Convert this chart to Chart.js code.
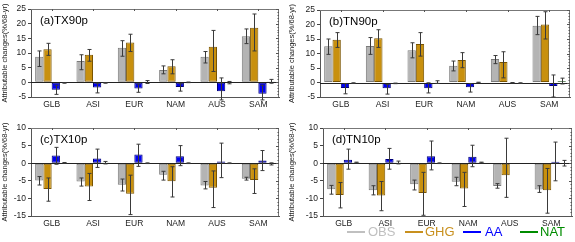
<!DOCTYPE html>
<html>
<head>
<meta charset="utf-8">
<script src="https://cdn.jsdelivr.net/npm/chart.js@4.4.0/dist/chart.umd.min.js"></script>
<style>
  body { margin: 0; background: #fff; width: 575px; height: 242px; position: relative; overflow: hidden; font-family: 'Liberation Sans', Arial, sans-serif; }
  canvas { position: absolute; }
  .leg-line { position: absolute; height: 2px; width: 18px; }
  .leg-text { position: absolute; font-size: 13px; line-height: 14px; }
</style>
</head>
<body>
<canvas id="pA" width="285" height="114" style="left:0;top:0"></canvas>
<canvas id="pB" width="288" height="114" style="left:287px;top:0"></canvas>
<canvas id="pC" width="285" height="120" style="left:0;top:115px"></canvas>
<canvas id="pD" width="288" height="120" style="left:287px;top:115px"></canvas>

<div class="leg-line" style="left:347px;top:231px;background:#c0c0c0"></div>
<div class="leg-text" style="left:368px;top:225px;color:#c0c0c0">OBS</div>
<div class="leg-line" style="left:405px;top:231px;background:#c8901e"></div>
<div class="leg-text" style="left:425px;top:225px;color:#c8901e">GHG</div>
<div class="leg-line" style="left:463px;top:231px;background:#0000ff"></div>
<div class="leg-text" style="left:485px;top:225px;color:#0000ff">AA</div>
<div class="leg-line" style="left:520px;top:231px;background:#008c00"></div>
<div class="leg-text" style="left:540px;top:225px;color:#008c00">NAT</div>

<script>
// categorias e séries
const regions = ['GLB', 'ASI', 'EUR', 'NAM', 'AUS', 'SAM'];
const seriesNames = ['OBS', 'GHG', 'AA', 'NAT'];

// (a) TX90p
const tx90pObs = [8.7, 7.3, 11.8, 4.2, 8.7, 15.7];
const tx90pObsErr = [[5.4, 10.7], [4.3, 9.4], [8.9, 14.2], [2.9, 5.6], [6.6, 10.5], [13.2, 18.2]];
const tx90pGhg = [11.3, 9.4, 13.6, 5.5, 12.1, 18.6];
const tx90pGhgErr = [[9.2, 13.3], [7.2, 11.2], [10.5, 16.4], [2.9, 7.7], [3.7, 17.7], [10.7, 23.3]];
const tx90pAa = [-2.5, -1.8, -2.1, -1.6, -3.0, -3.9];
const tx90pAaErr = [[-4.1, -1.0], [-3.6, -0.3], [-3.4, -0.6], [-3.0, -0.5], [-6.0, 1.5], [-6.0, -1.0]];
const tx90pNat = [-0.2, -0.2, 0.2, 0, -0.2, 0.3];
const tx90pNatErr = [[-0.3, -0.1], [-0.3, -0.1], [-0.4, 0.6], [-0.1, 0.1], [-0.5, 0.3], [-0.3, 1.0]];

// (b) TN90p
const tn90pObs = [12.5, 12.6, 11.1, 5.8, 8.1, 19.6];
const tn90pObsErr = [[9.7, 15.0], [9.7, 15.5], [8.5, 13.7], [4.0, 7.4], [6.5, 9.3], [16.5, 22.8]];
const tn90pGhg = [14.7, 15.3, 13.3, 7.8, 7.1, 20.0];
const tn90pGhgErr = [[12.1, 17.2], [12.1, 18.2], [9.1, 17.2], [5.1, 10.3], [1.6, 10.6], [15.0, 24.4]];
const tn90pAa = [-1.9, -2.0, -2.0, -1.6, -0.1, -1.2];
const tn90pAaErr = [[-3.9, -0.4], [-4.0, -0.7], [-3.6, -0.1], [-3.3, -0.4], [-0.2, 0], [-5.0, 2.6]];
const tn90pNat = [-0.2, -0.3, 0.2, 0, -0.2, 0.4];
const tn90pNatErr = [[-0.3, -0.1], [-0.4, -0.2], [-0.3, 0.6], [-0.1, 0.1], [-0.3, -0.1], [-0.5, 1.5]];

// (c) TX10p
const tx10pObs = [-4.9, -5.2, -6.1, -3.3, -6.3, -4.4];
const tx10pObsErr = [[-6.2, -3.8], [-6.5, -4.2], [-7.9, -4.5], [-4.8, -2.3], [-7.3, -5.2], [-4.8, -4.0]];
const tx10pGhg = [-7.3, -6.6, -8.7, -5.1, -7.0, -4.8];
const tx10pGhgErr = [[-10.8, -4.2], [-10.6, -2.9], [-14.6, -3.4], [-9.6, -1.0], [-12.6, -2.2], [-8.6, -1.6]];
const tx10pAa = [2.2, 1.3, 2.5, 2.0, 0.5, 0.8];
const tx10pAaErr = [[-0.3, 4.5], [-1.2, 4.0], [-0.9, 5.4], [-0.7, 5.0], [-4.1, 5.7], [-2.1, 3.6]];
const tx10pNat = [0.1, 0.2, 0, 0, 0, -0.2];
const tx10pNatErr = [[0, 0.2], [-0.2, 0.5], [-0.1, 0.1], [-0.1, 0.1], [-0.1, 0.1], [-0.5, 0.1]];

// (d) TN10p
const tn10pObs = [-7.4, -7.7, -6.0, -5.3, -6.5, -7.5];
const tn10pObsErr = [[-8.8, -6.3], [-9.0, -6.4], [-7.6, -4.8], [-6.4, -4.0], [-7.1, -5.8], [-8.3, -6.4]];
const tn10pGhg = [-9.0, -9.2, -8.5, -7.2, -3.4, -7.7];
const tn10pGhgErr = [[-12.7, -5.5], [-13.5, -5.2], [-14.8, -2.6], [-12.3, -2.6], [-9.7, 7.1], [-14.2, -1.5]];
const tn10pAa = [1.0, 1.2, 2.0, 1.8, 0, 0.4];
const tn10pAaErr = [[-1.7, 4.0], [-1.7, 4.2], [-1.9, 6.3], [-1.0, 5.1], null, [-5.0, 6.0]];
const tn10pNat = [0.2, 0.2, 0, 0.2, 0, 0];
const tn10pNatErr = [[0.1, 0.3], [-0.2, 0.6], [-0.1, 0.1], [0.1, 0.3], null, [-0.8, 0.8]];

const fills = ['#b4b4b4', '#c8900e', '#0000f0', '#008000'];
const borders = ['#7a7a7a', '#7a5400', '#00007a', '#004000'];

// barras de erro, moldura, linha do zero e rótulo do painel
const moldura = {
  id: 'moldura',
  afterDatasetsDraw(chart) {
    const ctx = chart.ctx;
    const a = chart.chartArea;
    const y = chart.scales.y;
    ctx.save();
    // linha do zero
    const y0 = Math.round(y.getPixelForValue(0)) + 0.5;
    ctx.strokeStyle = '#222';
    ctx.lineWidth = 1;
    ctx.beginPath();
    ctx.moveTo(a.left, y0);
    ctx.lineTo(a.right, y0);
    ctx.stroke();

    chart.data.datasets.forEach((ds, i) => {
      const meta = chart.getDatasetMeta(i);
      meta.data.forEach((bar, j) => {
        const e = ds.errs[j];
        if (!e) return;
        const x = Math.round(bar.x) + 0.5;
        const y1 = y.getPixelForValue(e[0]);
        const y2 = y.getPixelForValue(e[1]);
        ctx.strokeStyle = '#3a3a3a';
        ctx.beginPath();
        ctx.moveTo(x, y1); ctx.lineTo(x, y2);
        ctx.moveTo(x - 2, y1); ctx.lineTo(x + 2, y1);
        ctx.moveTo(x - 2, y2); ctx.lineTo(x + 2, y2);
        ctx.stroke();
      });
    });

    // topo e lado direito
    ctx.strokeStyle = '#777';
    ctx.beginPath();
    ctx.moveTo(a.left, a.top + 0.5);
    ctx.lineTo(a.right - 0.5, a.top + 0.5);
    ctx.lineTo(a.right - 0.5, a.bottom);
    ctx.stroke();
    // marcas menores à direita
    ctx.strokeStyle = '#555';
    ctx.beginPath();
    for (let v = y.min; v <= y.max; v += 1) {
      const py = Math.round(y.getPixelForValue(v)) + 0.5;
      const len = v % 5 === 0 ? 3 : 1.5;
      ctx.moveTo(a.right - len, py);
      ctx.lineTo(a.right, py);
    }
    ctx.stroke();
    // marcas no topo
    const x = chart.scales.x;
    ctx.beginPath();
    regions.forEach((r, k) => {
      const px = Math.round(x.getPixelForValue(k)) + 0.5;
      ctx.moveTo(px, a.top);
      ctx.lineTo(px, a.top + 2);
    });
    ctx.stroke();

    ctx.fillStyle = '#000';
    ctx.font = '11.5px "Liberation Sans", Arial, sans-serif';
    ctx.textBaseline = 'middle';
    ctx.fillText(chart.options.plugins.moldura.label, a.left + 9, a.top + 12);
    ctx.restore();
  }
};

function criarPainel(id, label, yMin, yMax, padTop, padRight, yWidth, xHeight, valores, erros) {
  new Chart(document.getElementById(id), {
    type: 'bar',
    data: {
      labels: regions,
      datasets: seriesNames.map((nome, i) => ({
        label: nome,
        data: valores[i],
        errs: erros[i],
        backgroundColor: fills[i],
        borderColor: borders[i],
        borderWidth: 1,
        borderSkipped: false,
        categoryPercentage: 0.8,
        barPercentage: 1.0
      }))
    },
    options: {
      responsive: false,
      animation: false,
      devicePixelRatio: 1,
      layout: { padding: { top: padTop, right: padRight, left: 0, bottom: 0 }, autoPadding: false },
      plugins: {
        legend: { display: false },
        tooltip: { enabled: false },
        moldura: { label: label }
      },
      scales: {
        x: {
          grid: { display: false, drawTicks: false },
          border: { display: true, color: '#555' },
          ticks: { color: '#222', padding: 3, font: { size: 8.5, family: '"Liberation Sans", Arial, sans-serif' } },
          afterFit: s => { s.height = xHeight; }
        },
        y: {
          min: yMin,
          max: yMax,
          ticks: { stepSize: 5, color: '#222', padding: 2, font: { size: 8.5, family: '"Liberation Sans", Arial, sans-serif' } },
          grid: { drawOnChartArea: false, drawTicks: true, tickLength: 3, color: '#444' },
          border: { display: true, color: '#555' },
          title: {
            display: true,
            text: 'Attributable changes(%/68-yr)',
            color: '#222',
            padding: { top: 0, bottom: 0 },
            font: { size: 7.5, family: '"Liberation Sans", Arial, sans-serif' }
          },
          afterFit: s => { s.width = yWidth; }
        }
      }
    },
    plugins: [moldura]
  });
}

criarPainel('pA', '(a)TX90p', -5, 25, 9, 6, 31, 17,
  [tx90pObs, tx90pGhg, tx90pAa, tx90pNat], [tx90pObsErr, tx90pGhgErr, tx90pAaErr, tx90pNatErr]);
criarPainel('pB', '(b)TN90p', -5, 25, 10, 5, 33, 17,
  [tn90pObs, tn90pGhg, tn90pAa, tn90pNat], [tn90pObsErr, tn90pGhgErr, tn90pAaErr, tn90pNatErr]);
criarPainel('pC', '(c)TX10p', -15, 10, 13, 6, 31, 19,
  [tx10pObs, tx10pGhg, tx10pAa, tx10pNat], [tx10pObsErr, tx10pGhgErr, tx10pAaErr, tx10pNatErr]);
criarPainel('pD', '(d)TN10p', -15, 10, 13, 3, 36, 19,
  [tn10pObs, tn10pGhg, tn10pAa, tn10pNat], [tn10pObsErr, tn10pGhgErr, tn10pAaErr, tn10pNatErr]);
</script>
</body>
</html>
